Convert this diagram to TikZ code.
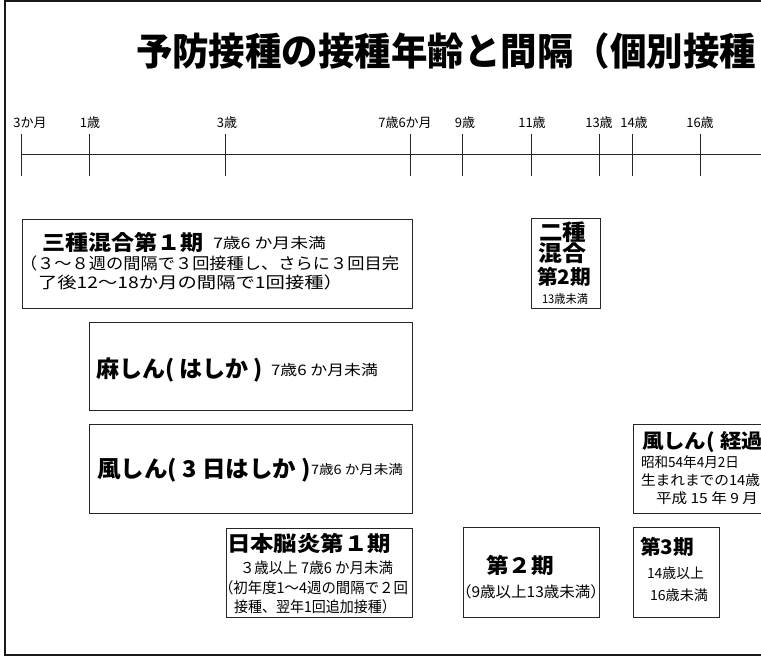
\documentclass[tikz,border=0pt]{standalone}
\usepackage{fontspec}
\usepackage{graphicx}
\setmainfont{Noto Sans CJK JP}
\newcommand\fitw[2]{\resizebox{#1pt}{\height}{#2}}
\tikzset{
  box/.style={draw=black!85, line width=1.2pt, fill=none, inner sep=0pt, anchor=north west},
  tx/.style={inner sep=0pt, outer sep=0pt, anchor=west},
  lbl/.style={inner sep=0pt, font=\fontsize{13}{13}\selectfont},
  tick/.style={draw=black!85, line width=1pt},
}
\newcommand\bfs[1]{\bfseries\fontsize{#1}{#1}\selectfont}
\newcommand\rgs[1]{\fontsize{#1}{#1}\selectfont}
\begin{document}
\begin{tikzpicture}[x=1pt,y=-1pt]
\useasboundingbox (0,0) rectangle (761,658);
\clip (0,0) rectangle (761,658);
\fill[white] (0,0) rectangle (761,658);
% outer frame
\draw[line width=2pt, black!90] (5,1) rectangle (820,655);
% title
\node[tx, font=\bfs{38}] (title) at (136,51) {\fitw{620}{予防接種の接種年齢と間隔（個別接種}};
% timeline
\coordinate (t0) at (21.7,155);
\coordinate (tend) at (770,155);
\draw[tick] (t0) -- (tend);
\foreach \x/\n in {21.7/a,89/b,225/c,410.7/d,462.7/e,531/f,599/g,632.3/h,700.7/i}{
  \coordinate (top\n) at (\x,134);
  \coordinate (bot\n) at (\x,176);
  \draw[tick] (top\n) -- (bot\n);
}
\node[lbl] (l0) at (30,123) {3か月};
\node[lbl] (l1) at (90,123) {1歳};
\node[lbl] (l3) at (227,123) {3歳};
\node[lbl] (l7) at (405,123) {7歳6か月};
\node[lbl] (l9) at (465,123) {9歳};
\node[lbl] (l11) at (532,123) {11歳};
\node[lbl] (l13) at (599,123) {13歳};
\node[lbl] (l14) at (634,123) {14歳};
\node[lbl] (l16) at (700,123) {16歳};
% boxes
\node[box, minimum width=390pt, minimum height=89pt] (b1) at (22,219) {};
\node[box, minimum width=323pt, minimum height=88pt] (b2) at (89,322) {};
\node[box, minimum width=323pt, minimum height=89pt] (b3) at (89,424) {};
\node[box, minimum width=186pt, minimum height=89pt] (b4) at (226,528) {};
\node[box, minimum width=136pt, minimum height=90pt] (b5) at (463,527) {};
\node[box, minimum width=69pt, minimum height=90pt] (b6) at (531,218) {};
\node[box, minimum width=167pt, minimum height=89pt] (b7) at (633,424) {};
\node[box, minimum width=86pt, minimum height=90pt] (b8) at (633,527) {};
% box 1
\node[tx, font=\bfs{21}] (b1a) at (42,242) {\fitw{162}{三種混合第１期}};
\node[tx, font=\rgs{14.5}] (b1b) at (213,243) {\fitw{113}{7歳6 か月未満}};
\node[tx, font=\rgs{16}] (b1c) at (20,263) {\fitw{379}{（３～８週の間隔で３回接種し、さらに３回目完}};
\node[tx, font=\rgs{16}] (b1d) at (38,282) {\fitw{305}{了後12～18か月の間隔で1回接種）}};
% box 2
\node[tx, font=\bfs{23}] (b2a) at (96,370) {\fitw{167}{麻しん( はしか )}};
\node[tx, font=\rgs{14.5}] (b2b) at (271,370) {\fitw{107}{7歳6 か月未満}};
% box 3
\node[tx, font=\bfs{23}] (b3a) at (97,470) {\fitw{214}{風しん( 3 日はしか )}};
\node[tx, font=\rgs{13}] (b3b) at (311,470) {\fitw{92}{7歳6 か月未満}};
% box 4
\node[tx, font=\bfs{21}] (b4a) at (227,543) {\fitw{164}{日本脳炎第１期}};
\node[tx, font=\rgs{15}] (b4b) at (240,568) {\fitw{153}{３歳以上 7歳6 か月未満}};
\node[tx, font=\rgs{15}] (b4c) at (219,588) {\fitw{189}{（初年度1～4週の間隔で２回}};
\node[tx, font=\rgs{15}] (b4d) at (234,607) {\fitw{162}{接種、翌年1回追加接種）}};
% box 5
\node[tx, font=\bfs{21}] (b5a) at (486,565) {\fitw{68}{第２期}};
\node[tx, font=\rgs{15}] (b5b) at (456,592) {\fitw{150}{（9歳以上13歳未満）}};
% box 6
\node[tx, font=\bfs{22}] (b6a) at (539,232) {\fitw{47}{二種}};
\node[tx, font=\bfs{22}] (b6b) at (538,253) {\fitw{48}{混合}};
\node[tx, font=\bfs{20}] (b6c) at (537,277) {\fitw{54}{第2期}};
\node[tx, font=\rgs{12}] (b6d) at (542,299) {\fitw{46}{13歳未満}};
% box 7
\node[tx, font=\bfs{20}] (b7a) at (642,442) {\fitw{121}{風しん( 経過}};
\node[tx, font=\rgs{14}] (b7b) at (641,462) {\fitw{98}{昭和54年4月2日}};
\node[tx, font=\rgs{14}] (b7c) at (641,480) {\fitw{119}{生まれまでの14歳}};
\node[tx, font=\rgs{14}] (b7d) at (656,498) {\fitw{102}{平成 15 年 9 月}};
% box 8
\node[tx, font=\bfs{20}] (b8a) at (640,547) {\fitw{54}{第3期}};
\node[tx, font=\rgs{14}] (b8b) at (647,573) {\fitw{57}{14歳以上}};
\node[tx, font=\rgs{14}] (b8c) at (650,595) {\fitw{58}{16歳未満}};
\end{tikzpicture}
\end{document}
